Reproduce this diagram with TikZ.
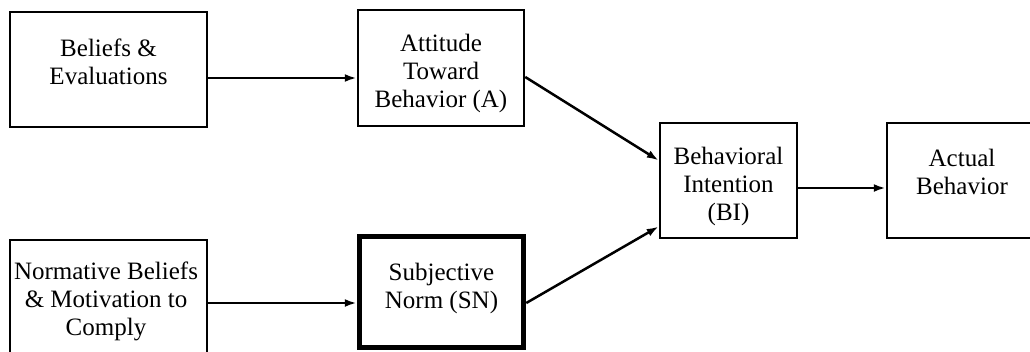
\documentclass[tikz,border=0pt]{standalone}
\usepackage{fontspec}
\setmainfont{Liberation Serif}
\usetikzlibrary{arrows.meta}
\begin{document}
\begin{tikzpicture}[x=1pt,y=-1pt,
  box/.style={draw=black,line width=2.5pt,rectangle,inner sep=0pt},
  thickbox/.style={draw=black,line width=5.5pt,rectangle,inner sep=0pt},
  lbl/.style={align=center,font=\fontsize{25}{28}\selectfont,inner sep=0pt},
  conn/.style={line width=2.5pt,-{Latex[length=12pt,width=8pt]}}]
\useasboundingbox[fill=white] (0,0) rectangle (1030,351);
\begin{scope}
\clip (0,0) rectangle (1030,351);
% boxes
\node[box,minimum width=197pt,minimum height=115pt] (b1) at (108.5,69.5) {};
\node[box,minimum width=166pt,minimum height=116pt] (a) at (441,68) {};
\node[box,minimum width=197pt,minimum height=122pt] (nb) at (108.5,301) {};
\node[thickbox,minimum width=164pt,minimum height=111pt] (sn) at (441.5,292) {};
\node[box,minimum width=137pt,minimum height=115pt] (bi) at (728.5,180.5) {};
\node[box,minimum width=170pt,minimum height=115pt] (ab) at (972,180.5) {};
\end{scope}
% texts
\node[lbl] (tb1) at (108.5,62) {Beliefs \&\\Evaluations};
\node[lbl] (ta) at (441,73) {Attitude\\Toward\\Behavior (A)};
\node[lbl] (tnb) at (106,301) {Normative Beliefs\\\& Motivation to\\Comply};
\node[lbl] (tsn) at (441.5,288) {Subjective\\Norm (SN)};
\node[lbl] (tbi) at (728.5,186) {Behavioral\\Intention\\(BI)};
\node[lbl] (tab) at (962,172) {Actual\\Behavior};
% connectors
\draw[conn] ([yshift=-8.5pt]b1.east) -- ([yshift=-10pt]a.west);
\draw[conn] ([yshift=-2pt]nb.east) -- ([yshift=-11pt]sn.west);
\draw[conn] ([yshift=-9pt]a.east) -- ([yshift=20pt]bi.west);
\draw[conn] ([yshift=-11pt]sn.east) -- ([yshift=-46pt]bi.west);
\draw[conn] ([yshift=-7.5pt]bi.east) -- ([yshift=-7.5pt]ab.west);
\end{tikzpicture}
\end{document}
